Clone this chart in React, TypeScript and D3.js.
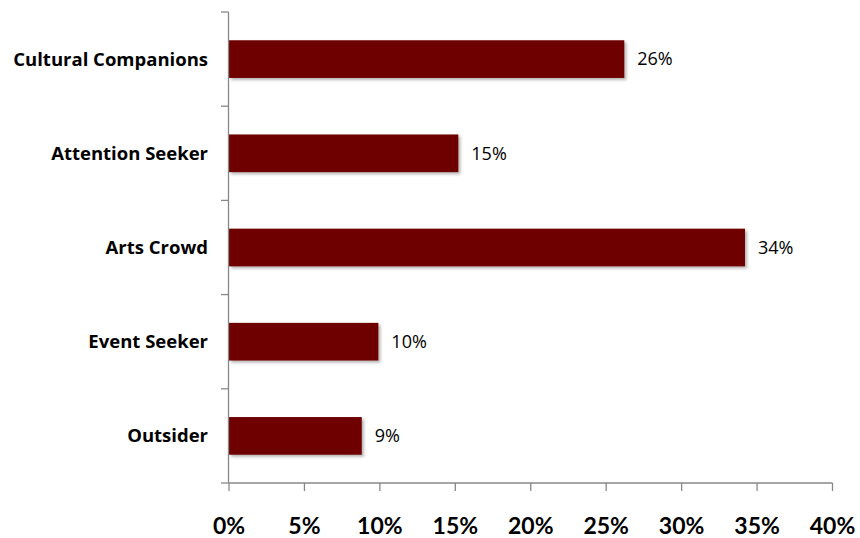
import React from "react";
import * as d3 from "d3";

const categories = ["Cultural Companions", "Attention Seeker", "Arts Crowd", "Event Seeker", "Outsider"];
const values = [26.2, 15.2, 34.2, 9.9, 8.8];
const valueLabels = ["26%", "15%", "34%", "10%", "9%"];
const xTicks = [0, 5, 10, 15, 20, 25, 30, 35, 40];

const W = 860;
const H = 538;
const FONT = "Lato, 'Open Sans', 'DejaVu Sans', sans-serif";
const FONT2 = "'Open Sans', Lato, 'DejaVu Sans', sans-serif";

export default function App() {
  const x = d3.scaleLinear().domain([0, 40]).range([229, 832.5]);
  const y = d3.scaleBand<string>().domain(categories).range([12, 483]).paddingInner(0.6).paddingOuter(0.3);
  const bandStep = (483 - 12) / categories.length;
  const axisColor = "#888888";
  const catTicks = d3.range(categories.length + 1).map((i) => 12 + i * bandStep);

  return (
    <svg width={W} height={H} style={{ position: "absolute", left: 0, top: 0 }}>
      <defs>
        <filter id="shadow" x="-5%" y="-20%" width="115%" height="160%">
          <feDropShadow dx="2" dy="2" stdDeviation="1.5" floodColor="#000" floodOpacity="0.3" />
        </filter>
      </defs>
      {categories.map((c, i) => (
        <rect
          key={c}
          x={x(0)}
          y={y(c)}
          width={x(values[i]) - x(0)}
          height={y.bandwidth()}
          fill="#6E0000"
          filter="url(#shadow)"
        />
      ))}
      {categories.map((c, i) => (
        <text
          key={c + "v"}
          x={x(values[i]) + 13}
          y={(y(c) as number) + y.bandwidth() / 2}
          dy="0.35em"
          fontFamily={FONT2}
          fontSize={18}
          fill="#000"
        >
          {valueLabels[i]}
        </text>
      ))}
      <line x1={228.5} x2={228.5} y1={12} y2={483} stroke={axisColor} strokeWidth={1.3} />
      {catTicks.map((t, i) => (
        <line key={"yt" + i} x1={221} x2={228.5} y1={t} y2={t} stroke={axisColor} strokeWidth={1.3} />
      ))}
      {categories.map((c) => (
        <text
          key={c + "l"}
          x={208}
          y={(y(c) as number) + y.bandwidth() / 2}
          dy="0.35em"
          textAnchor="end"
          fontFamily={FONT2}
          fontWeight="bold"
          fontSize={18.5}
          fill="#000"
        >
          {c}
        </text>
      ))}
      <line x1={228.5} x2={832.5} y1={483} y2={483} stroke={axisColor} strokeWidth={1.3} />
      {xTicks.map((t) => (
        <g key={"xt" + t}>
          <line x1={x(t)} x2={x(t)} y1={483} y2={491} stroke={axisColor} strokeWidth={1.3} />
          <text
            x={x(t)}
            y={534}
            textAnchor="middle"
            fontFamily={FONT}
            fontWeight="bold"
            fontSize={23}
            fill="#000"
          >
            {t + "%"}
          </text>
        </g>
      ))}
    </svg>
  );
}
